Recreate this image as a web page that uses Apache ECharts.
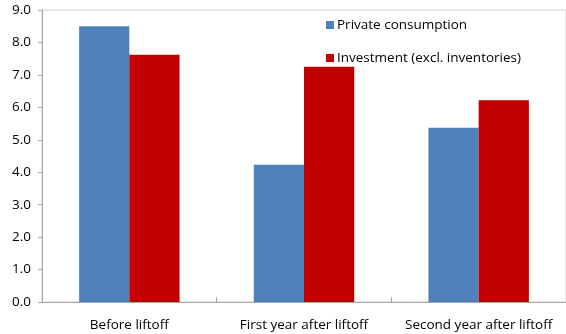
<!DOCTYPE html>
<html>
<head>
<meta charset="utf-8">
<script src="https://cdn.jsdelivr.net/npm/echarts@6/dist/echarts.min.js"></script>
<style>
  html, body { margin: 0; padding: 0; background: #fff; }
  #chart { width: 566px; height: 334px; }
</style>
</head>
<body>
<div id="chart"></div>
<script>
// Growth by phase relative to policy-rate liftoff
const categories = ['Before liftoff', 'First year after liftoff', 'Second year after liftoff'];
const privateConsumption = [8.5, 4.23, 5.37];
const investment = [7.62, 7.25, 6.22];
const seriesNames = ['Private consumption', 'Investment (excl. inventories)'];
const yTicks = { min: 0, max: 9, interval: 1 };

const FONT = 'Open Sans';
const AXIS_GRAY = '#a6a6a6';

const chart = echarts.init(document.getElementById('chart'), null, { renderer: 'canvas' });
chart.setOption({
  animation: false,
  textStyle: { fontFamily: FONT },
  grid: {
    left: 42, right: -2, top: 10, bottom: 32,
    show: true, borderColor: '#d0d0d0', borderWidth: 1, backgroundColor: 'transparent'
  },
  legend: {
    orient: 'vertical',
    left: 321, top: 12,
    itemWidth: 8, itemHeight: 8, itemGap: 17,
    icon: 'rect',
    textStyle: { fontFamily: FONT, fontSize: 13.5, lineHeight: 16, color: '#000', padding: [0, 0, 0, -2] },
    data: seriesNames
  },
  xAxis: {
    type: 'category',
    data: categories,
    axisLine: { lineStyle: { color: AXIS_GRAY } },
    axisTick: { show: true, inside: true, length: 5, lineStyle: { color: AXIS_GRAY } },
    axisLabel: { color: '#000', fontSize: 13.5, fontFamily: FONT, margin: 16, interval: 0 }
  },
  yAxis: {
    type: 'value',
    min: yTicks.min, max: yTicks.max, interval: yTicks.interval,
    axisLine: { show: true, lineStyle: { color: AXIS_GRAY } },
    axisTick: { show: true, length: 4, lineStyle: { color: AXIS_GRAY } },
    splitLine: { show: false },
    axisLabel: {
      color: '#000', fontSize: 13.5, fontFamily: FONT, margin: 11,
      formatter: v => v.toFixed(1)
    }
  },
  series: [
    {
      name: seriesNames[0], type: 'bar', data: privateConsumption,
      itemStyle: { color: '#4f81bd' },
      barGap: '0%', barCategoryGap: '42.5%'
    },
    {
      name: seriesNames[1], type: 'bar', data: investment,
      itemStyle: { color: '#c00000' },
      barGap: '0%', barCategoryGap: '42.5%'
    }
  ]
});
</script>
</body>
</html>
